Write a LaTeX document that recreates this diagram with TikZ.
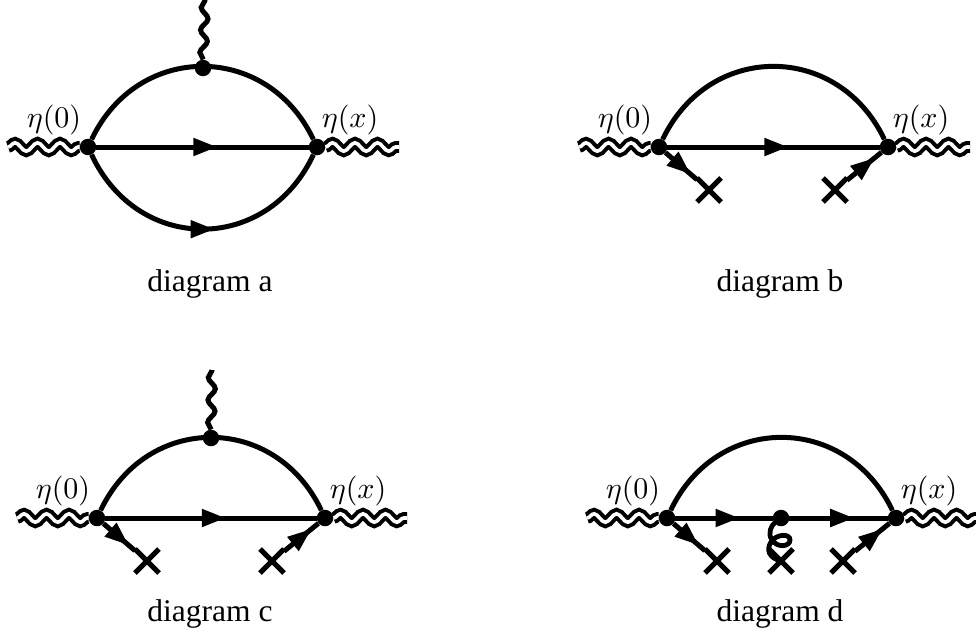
\documentclass[tikz,border=0pt]{standalone}
\usepackage{fontspec}
\usepackage{graphicx}
\newfontfamily\capfont{Liberation Serif}
\usetikzlibrary{decorations.pathmorphing,decorations.markings,arrows.meta,shapes.misc,calc}
\tikzset{
  x=1pt,y=-1pt,
  vertexdot/.style={circle,fill=black,inner sep=0pt,minimum size=16.5pt},
  fermion/.style={line width=5pt},
  midhead/.style={postaction={decorate},decoration={markings,mark=at position #1 with {\arrow{Triangle[length=24pt,width=17pt]}}}},
  archead/.style={postaction={decorate},decoration={markings,mark=at position .5 with {\pgftransformxshift{12pt}\arrow{Triangle[length=24pt,width=17pt]}}}},
  ext/.style={decorate,decoration={snake,segment length=22.5pt,amplitude=4.2pt},line width=4pt,double=white,double distance=3.6pt},
  photon/.style={decorate,decoration={snake,segment length=22.5pt,amplitude=3.6pt},line width=5pt},
  xmark/.style={cross out,draw=black,line width=5pt,minimum size=19pt,inner sep=0pt},
  lab/.style={inner sep=0pt},
  captext/.style={font=\fontsize{31.5}{36}\capfont,inner sep=0pt,anchor=base},
}
% prefix, x left, x right, y, caption letter, caption x, caption y
\newcommand{\basegraph}[7]{%
  \node[vertexdot] (#1l) at (#2,#4) {};
  \node[vertexdot] (#1r) at (#3,#4) {};
  \coordinate (#1wl) at ($(#1l)+(-80,0)$);
  \coordinate (#1wr) at ($(#1r)+(82,0)$);
  \draw[ext] (#1wl) -- (#1l);
  \draw[ext] (#1r) -- (#1wr);
  \node[lab] (#1tl) at ($(#1l)+(-34,-27)$) {\scalebox{3}{$\eta(0)$}};
  \node[lab] (#1tr) at ($(#1r)+(33,-27)$) {\scalebox{3}{$\eta(x)$}};
  \draw[fermion] (#1l) .. controls +(50,-105) and +(-50,-105) .. (#1r);
  \node[captext] (#1cap) at (#6,#7) {diagram #5};
}
\newcommand{\crossed}[1]{%
  \node[xmark] (#1xl) at ($(#1l)+(50,43)$) {};
  \node[xmark] (#1xr) at ($(#1r)+(-53,43)$) {};
  \draw[fermion,midhead=.8] (#1l) -- (#1xl);
  \draw[fermion,midhead=.8] (#1xr) -- (#1r);
}
\begin{document}
\begin{tikzpicture}
\useasboundingbox (0,0) rectangle (976,635);
% a
\basegraph{a}{88}{317}{147}{a}{210}{291}
\draw[fermion,midhead=.57] (al) -- (ar);
\draw[fermion,archead] (al) .. controls +(50,107) and +(-50,107) .. (ar);
\node[vertexdot] (at) at (203,68) {};
\coordinate (aw) at (205,0);
\draw[photon] (at) -- (aw);
% b
\basegraph{b}{659}{888}{147}{b}{780}{291}
\draw[fermion,midhead=.57] (bl) -- (br);
\crossed{b}
% c
\basegraph{c}{97}{325}{518}{c}{210}{621}
\draw[fermion,midhead=.57] (cl) -- (cr);
\crossed{c}
\node[vertexdot] (ct) at (211,438) {};
\coordinate (cw) at (212,370);
\draw[photon] (ct) -- (cw);
% d
\basegraph{d}{667}{896}{518}{d}{780}{621}
\node[vertexdot] (dm) at (781,518) {};
\draw[fermion,midhead=.66] (dl) -- (dm);
\draw[fermion,midhead=.66] (dm) -- (dr);
\crossed{d}
\node[xmark] (dxm) at (781,561) {};
\draw[line width=4.8pt,line cap=round] (dm) .. controls (772,525) and (767,533) .. (772,540)
  .. controls (777,548) and (790,547) .. (790,540)
  .. controls (790,533) and (776,534) .. (771,542)
  .. controls (766,550) and (769,558) .. (dxm.center);
\end{tikzpicture}
\end{document}
